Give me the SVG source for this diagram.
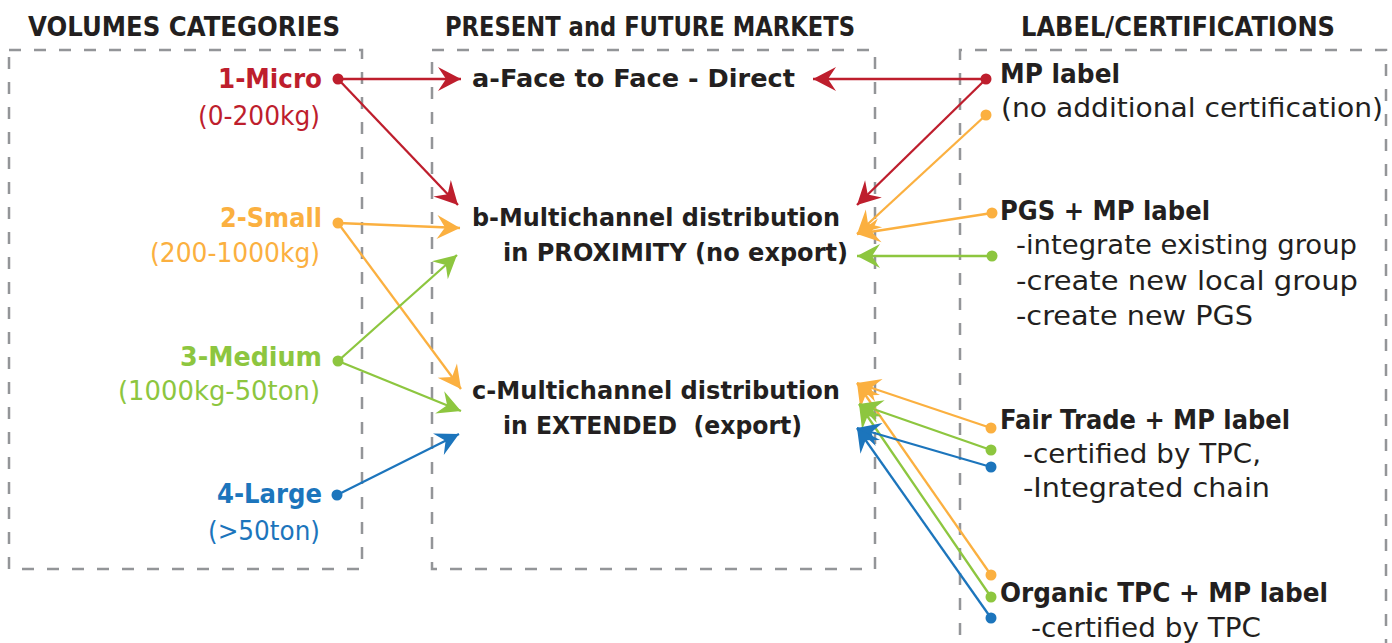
<svg xmlns="http://www.w3.org/2000/svg" width="1392" height="643" viewBox="0 0 1392 643">
<defs>
<style>
.box{fill:none;stroke:#939598;stroke-width:2.5;stroke-dasharray:12 13}
.hd{font-family:"DejaVu Sans","Liberation Sans",sans-serif;font-weight:700;font-size:26px;fill:#231F20}
.lb{font-family:"DejaVu Sans","Liberation Sans",sans-serif;font-weight:700;font-size:27px}
.lr{font-family:"DejaVu Sans","Liberation Sans",sans-serif;font-weight:400;font-size:27px}
.mb{font-family:"DejaVu Sans","Liberation Sans",sans-serif;font-weight:700;font-size:25px;fill:#231F20}
.rb{font-family:"DejaVu Sans","Liberation Sans",sans-serif;font-weight:700;font-size:26px;fill:#231F20}
.rr{font-family:"DejaVu Sans","Liberation Sans",sans-serif;font-weight:400;font-size:27px;fill:#231F20}
.red{fill:#BE1E2D}.org{fill:#FBB040}.grn{fill:#8DC63F}.blu{fill:#1C75BC}
.c{fill:none;stroke-width:2.3}
.cr{stroke:#BE1E2D;marker-end:url(#ar)}
.co{stroke:#FBB040;marker-end:url(#ao)}
.cg{stroke:#8DC63F;marker-end:url(#ag)}
.cb{stroke:#1C75BC;marker-end:url(#ab)}
.pre{white-space:pre}
</style>
<marker id="ar" markerUnits="userSpaceOnUse" viewBox="-25 -13 26 26" markerWidth="26" markerHeight="26" refX="0" refY="0" orient="auto"><path d="M0,0 L-23,-12 L-15,0 L-23,12 Z" fill="#BE1E2D"/></marker>
<marker id="ao" markerUnits="userSpaceOnUse" viewBox="-25 -13 26 26" markerWidth="26" markerHeight="26" refX="0" refY="0" orient="auto"><path d="M0,0 L-23,-12 L-15,0 L-23,12 Z" fill="#FBB040"/></marker>
<marker id="ag" markerUnits="userSpaceOnUse" viewBox="-25 -13 26 26" markerWidth="26" markerHeight="26" refX="0" refY="0" orient="auto"><path d="M0,0 L-23,-12 L-15,0 L-23,12 Z" fill="#8DC63F"/></marker>
<marker id="ab" markerUnits="userSpaceOnUse" viewBox="-25 -13 26 26" markerWidth="26" markerHeight="26" refX="0" refY="0" orient="auto"><path d="M0,0 L-23,-12 L-15,0 L-23,12 Z" fill="#1C75BC"/></marker>
</defs>
<rect width="1392" height="643" fill="#fff"/>

<g id="headers">
<text class="hd" x="28" y="36" textLength="312" lengthAdjust="spacingAndGlyphs">VOLUMES CATEGORIES</text>
<text class="hd" x="445" y="36" textLength="410" lengthAdjust="spacingAndGlyphs">PRESENT and FUTURE MARKETS</text>
<text class="hd" x="1021" y="36" textLength="314" lengthAdjust="spacingAndGlyphs">LABEL/CERTIFICATIONS</text>
</g>

<g id="boxes">
<rect class="box" x="9" y="50" width="353" height="519"/>
<rect class="box" x="432" y="50" width="443" height="519"/>
<path class="box" d="M960,660 L960,50 L1386,50 L1386,660"/>
</g>

<g id="connectors">
<path class="c cr" d="M338,79 L461,79"/>
<path class="c cr" d="M338,79 L458,205"/>
<path class="c cr" d="M986,79 L813,79"/>
<path class="c cr" d="M986,79 L857,205"/>
<path class="c co" d="M338,223 L460,228"/>
<path class="c co" d="M338,223 L461,389"/>
<path class="c co" d="M986,115 L857,234"/>
<path class="c co" d="M992,213 L857,234"/>
<path class="c co" d="M991,428 L857,383"/>
<path class="c co" d="M991,575 L857,383"/>
<path class="c cg" d="M338,361 L457,255"/>
<path class="c cg" d="M338,361 L461,411"/>
<path class="c cg" d="M992,256 L857,256"/>
<path class="c cg" d="M991,450 L859,404"/>
<path class="c cg" d="M991,597 L859,404"/>
<path class="c cb" d="M337,495 L459,434"/>
<path class="c cb" d="M991,467 L857,428"/>
<path class="c cb" d="M991,618 L857,428"/>
<g id="dots">
<circle class="red" cx="338" cy="79" r="5.5"/>
<circle class="org" cx="338" cy="223" r="5.5"/>
<circle class="grn" cx="338" cy="361" r="5.5"/>
<circle class="blu" cx="337" cy="495" r="5.5"/>
<circle class="red" cx="986" cy="79" r="5.5"/>
<circle class="org" cx="986" cy="115" r="5.5"/>
<circle class="org" cx="992" cy="213" r="5.5"/>
<circle class="grn" cx="992" cy="256" r="5.5"/>
<circle class="org" cx="991" cy="428" r="5.5"/>
<circle class="grn" cx="991" cy="450" r="5.5"/>
<circle class="blu" cx="991" cy="467" r="5.5"/>
<circle class="org" cx="991" cy="575" r="5.5"/>
<circle class="grn" cx="991" cy="597" r="5.5"/>
<circle class="blu" cx="991" cy="618" r="5.5"/>
</g>
</g>

<g id="micro">
<text class="lb red" x="218" y="88" textLength="104" lengthAdjust="spacingAndGlyphs">1-Micro</text>
<text class="lr red" x="198" y="125" textLength="122" lengthAdjust="spacingAndGlyphs">(0-200kg)</text>
</g>
<g id="small">
<text class="lb org" x="220" y="227" textLength="102" lengthAdjust="spacingAndGlyphs">2-Small</text>
<text class="lr org" x="150" y="262" textLength="170" lengthAdjust="spacingAndGlyphs">(200-1000kg)</text>
</g>
<g id="medium">
<text class="lb grn" x="180" y="366" textLength="142" lengthAdjust="spacingAndGlyphs">3-Medium</text>
<text class="lr grn" x="118" y="400" textLength="202" lengthAdjust="spacingAndGlyphs">(1000kg-50ton)</text>
</g>
<g id="large">
<text class="lb blu" x="217" y="503" textLength="105" lengthAdjust="spacingAndGlyphs">4-Large</text>
<text class="lr blu" x="208" y="540" textLength="112" lengthAdjust="spacingAndGlyphs">(&gt;50ton)</text>
</g>

<g id="market-a">
<text class="mb" x="472" y="87" textLength="323" lengthAdjust="spacingAndGlyphs">a-Face to Face - Direct</text>
</g>
<g id="market-b">
<text class="mb" x="472" y="226" textLength="368" lengthAdjust="spacingAndGlyphs">b-Multichannel distribution</text>
<text class="mb" x="503" y="261" textLength="345" lengthAdjust="spacingAndGlyphs">in PROXIMITY (no export)</text>
</g>
<g id="market-c">
<text class="mb" x="472" y="399" textLength="368" lengthAdjust="spacingAndGlyphs">c-Multichannel distribution</text>
<text class="mb pre" x="503" y="434" textLength="299" lengthAdjust="spacingAndGlyphs">in EXTENDED  (export)</text>
</g>

<g id="mp-label">
<text class="rb" x="1000" y="83" textLength="120" lengthAdjust="spacingAndGlyphs">MP label</text>
<text class="rr" x="1001" y="117" textLength="382" lengthAdjust="spacingAndGlyphs">(no additional certification)</text>
</g>
<g id="pgs-label">
<text class="rb" x="1000" y="220" textLength="210" lengthAdjust="spacingAndGlyphs">PGS + MP label</text>
<text class="rr" x="1016" y="254" textLength="341" lengthAdjust="spacingAndGlyphs">-integrate existing group</text>
<text class="rr" x="1016" y="290" textLength="342" lengthAdjust="spacingAndGlyphs">-create new local group</text>
<text class="rr" x="1016" y="325" textLength="237" lengthAdjust="spacingAndGlyphs">-create new PGS</text>
</g>
<g id="fairtrade-label">
<text class="rb" x="1000" y="429" textLength="290" lengthAdjust="spacingAndGlyphs">Fair Trade + MP label</text>
<text class="rr" x="1023" y="463" textLength="238" lengthAdjust="spacingAndGlyphs">-certified by TPC,</text>
<text class="rr" x="1023" y="497" textLength="247" lengthAdjust="spacingAndGlyphs">-Integrated chain</text>
</g>
<g id="organic-label">
<text class="rb" x="1000" y="602" textLength="328" lengthAdjust="spacingAndGlyphs">Organic TPC + MP label</text>
<text class="rr" x="1031" y="637" textLength="230" lengthAdjust="spacingAndGlyphs">-certified by TPC</text>
</g>
</svg>
